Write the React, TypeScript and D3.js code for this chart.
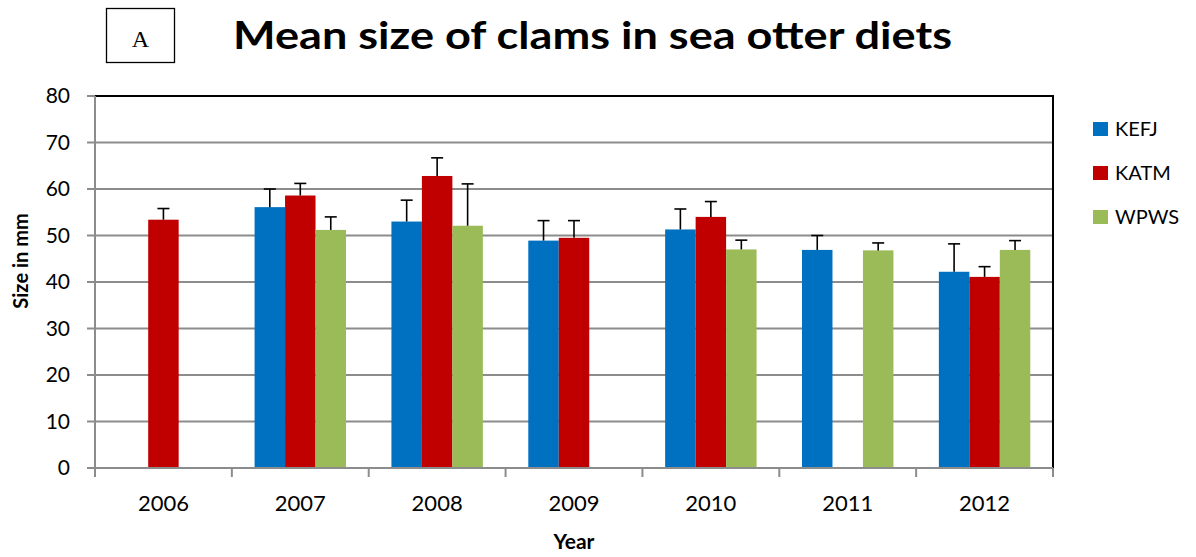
import React from "react"
import * as d3 from "d3"

const years = ["2006", "2007", "2008", "2009", "2010", "2011", "2012"]
const seriesNames = ["KEFJ", "KATM", "WPWS"]
const seriesColors = ["#0070C0", "#C00000", "#9BBB59"]

// mean size (mm) and upper error per series; null = no data
const kefj = [null, 56.1, 53.0, 48.9, 51.3, 46.9, 42.2]
const kefjErr = [null, 3.9, 4.6, 4.3, 4.4, 3.1, 6.0]
const katm = [53.4, 58.6, 62.8, 49.5, 54.0, null, 41.1]
const katmErr = [2.4, 2.6, 3.9, 3.7, 3.3, null, 2.2]
const wpws = [null, 51.2, 52.1, null, 47.0, 46.8, 46.9]
const wpwsErr = [null, 2.8, 9.0, null, 2.0, 1.6, 2.0]

const yTicks = [0, 10, 20, 30, 40, 50, 60, 70, 80]

const values = [kefj, katm, wpws]
const errors = [kefjErr, katmErr, wpwsErr]

const W = 1196
const H = 557
const m = { top: 96, right: 143, bottom: 89, left: 95 }
const font = "Lato, 'Open Sans', sans-serif"

export default function App() {
  const x0 = d3.scaleBand().domain(years).range([m.left, W - m.right]).paddingInner(0).paddingOuter(0)
  const groupW = x0.bandwidth() * 0.668
  const x1 = d3
    .scaleBand()
    .domain(seriesNames)
    .range([(x0.bandwidth() - groupW) / 2, (x0.bandwidth() + groupW) / 2])
  const y = d3.scaleLinear().domain([0, 80]).range([H - m.bottom, m.top])

  const bars: { key: string; x: number; v: number; e: number; color: string }[] = []
  years.forEach((yr, i) => {
    seriesNames.forEach((s, j) => {
      const v = values[j][i]
      if (v == null) return
      bars.push({ key: yr + s, x: (x0(yr) || 0) + (x1(s) || 0), v, e: errors[j][i] || 0, color: seriesColors[j] })
    })
  })
  const bw = x1.bandwidth()
  const x0L = m.left
  const x0R = W - m.right
  const yB = y(0)
  const yT = y(80)

  return (
    <svg width={W} height={H} style={{ position: "absolute", left: 0, top: 0, background: "#fff" }}>
      {/* panel label */}
      <rect x={106.5} y={8.5} width={68} height={54} fill="none" stroke="#000" strokeWidth={1.3} />
      <text x={140.5} y={47} textAnchor="middle" fontFamily="'Liberation Serif', 'DejaVu Serif', serif" fontSize={24}>
        A
      </text>
      <text
        x={233}
        y={49}
        textLength={719}
        lengthAdjust="spacingAndGlyphs"
        fontFamily={font}
        fontWeight="bold"
        fontSize={38}
      >
        Mean size of clams in sea otter diets
      </text>

      {/* gridlines */}
      {yTicks.slice(1).map((t) => (
        <line key={"g" + t} x1={x0L} x2={x0R} y1={y(t)} y2={y(t)} stroke="#8c8c8c" strokeWidth={2} />
      ))}

      {/* bars */}
      {bars.map((b) => (
        <rect key={b.key} x={b.x} y={y(b.v)} width={bw} height={yB - y(b.v)} fill={b.color} />
      ))}

      {/* error bars */}
      {bars.map((b) => (
        <g key={"e" + b.key} stroke="#000" strokeWidth={1.6}>
          <line x1={b.x + bw / 2} x2={b.x + bw / 2} y1={y(b.v)} y2={y(b.v + b.e)} />
          <line x1={b.x + bw / 2 - 6} x2={b.x + bw / 2 + 6} y1={y(b.v + b.e)} y2={y(b.v + b.e)} />
        </g>
      ))}

      {/* frame */}
      <line x1={x0L} x2={x0R + 1} y1={yT} y2={yT} stroke="#000" strokeWidth={2} />
      <line x1={x0R} x2={x0R} y1={yT} y2={yB} stroke="#000" strokeWidth={2} />
      <line x1={x0L} x2={x0L} y1={yT} y2={yB} stroke="#8c8c8c" strokeWidth={2} />
      <line x1={x0L - 8} x2={x0R} y1={yB} y2={yB} stroke="#8c8c8c" strokeWidth={2} />

      {/* y axis */}
      {yTicks.map((t) => (
        <g key={"y" + t}>
          <line x1={x0L - 8} x2={x0L} y1={y(t)} y2={y(t)} stroke="#8c8c8c" strokeWidth={2} />
          <text x={70} y={y(t)} dy="0.35em" textAnchor="end" fontFamily={font} fontSize={21}>
            {t}
          </text>
        </g>
      ))}

      {/* x axis */}
      {years.concat([""]).map((yr, i) => {
        const xp = x0L + i * x0.bandwidth()
        return <line key={"xt" + i} x1={xp} x2={xp} y1={yB} y2={yB + 9} stroke="#8c8c8c" strokeWidth={2} />
      })}
      {years.map((yr) => (
        <text key={"xl" + yr} x={(x0(yr) || 0) + x0.bandwidth() / 2} y={511} textAnchor="middle" fontFamily={font} fontSize={22}>
          {yr}
        </text>
      ))}

      <text x={(x0L + x0R) / 2} y={549} textAnchor="middle" fontFamily={font} fontWeight="bold" fontSize={21}>
        Year
      </text>
      <text
        transform={`translate(28,261) rotate(-90)`}
        textAnchor="middle"
        fontFamily={font}
        fontWeight="bold"
        fontSize={20}
      >
        Size in mm
      </text>

      {/* legend */}
      {seriesNames.map((s, j) => (
        <g key={"lg" + s} transform={`translate(1093,${122 + j * 44})`}>
          <rect width={15} height={14} fill={seriesColors[j]} />
          <text x={22} y={7} dy="0.36em" fontFamily={font} fontSize={20}>
            {s}
          </text>
        </g>
      ))}
    </svg>
  )
}
